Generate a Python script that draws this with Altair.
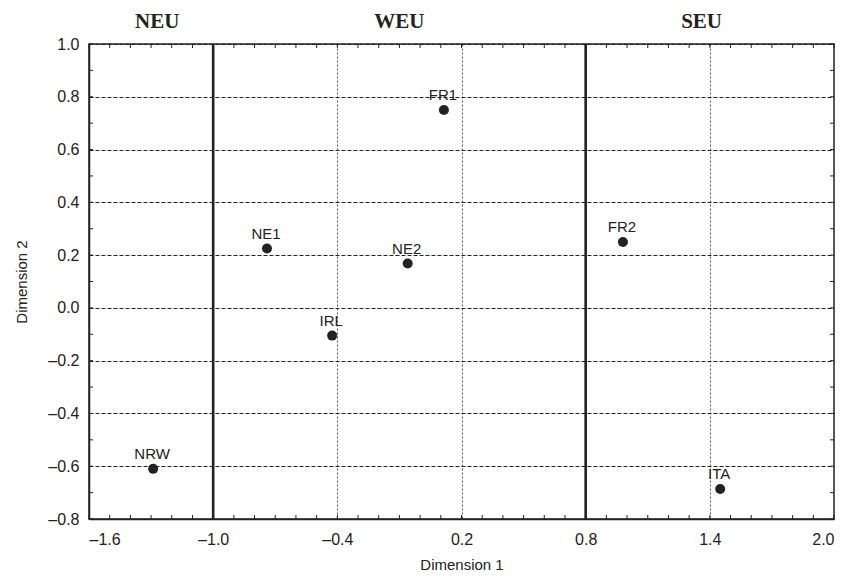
import altair as alt
import pandas as pd

# Data
countries = ["NRW", "NE1", "IRL", "NE2", "FR1", "FR2", "ITA"]
dim1 = [-1.29, -0.74, -0.425, -0.06, 0.115, 0.98, 1.45]
dim2 = [-0.61, 0.225, -0.105, 0.168, 0.75, 0.25, -0.686]

regions = ["NEU", "WEU", "SEU"]
region_x = [-1.27, -0.1, 1.36]
boundaries = [-1.0, 0.8]

x_ticks = [-1.6, -1.0, -0.4, 0.2, 0.8, 1.4, 2.0]
y_ticks = [-0.8, -0.7, -0.6, -0.5, -0.4, -0.3, -0.2, -0.1, 0.0,
           0.1, 0.2, 0.3, 0.4, 0.5, 0.6, 0.7, 0.8, 0.9, 1.0]
x_minor = [round(-1.6 + 0.1 * i, 1) for i in range(37)]

W, H = 745, 475
INK = "#222222"
FONT = "Liberation Sans"

pts = pd.DataFrame({"country": countries, "d1": dim1, "d2": dim2})
reg = pd.DataFrame({"region": regions, "x": region_x})
bnd = pd.DataFrame({"b": boundaries})
mx = pd.DataFrame({"m": x_minor})
my = pd.DataFrame({"m": y_ticks})

xscale = alt.Scale(domain=[-1.6, 2.0], nice=False, zero=False)
yscale = alt.Scale(domain=[-0.8, 1.0], nice=False, zero=False)

lab = "(datum.value < -0.001 ? '–' : '') + format(abs(datum.value), '.1f')"

xaxis = alt.Axis(values=x_ticks, title="Dimension 1", grid=True, ticks=False,
                 labelExpr=lab, labelPadding=12, titlePadding=10,
                 gridDash=[2, 2], gridColor="#555555", gridWidth=1,
                 domainColor=INK, domainWidth=1.5,
                 labelFont=FONT, titleFont=FONT, labelFontSize=16, titleFontSize=15,
                 labelColor=INK, titleColor=INK, titleFontWeight="normal")
yaxis = alt.Axis(values=y_ticks, title="Dimension 2", grid=True, ticks=False,
                 labelExpr="abs(round(datum.value*10)) % 2 == 1 ? '' : " + lab,
                 labelPadding=10, titlePadding=18,
                 gridDash=[4, 2], gridColor="#222222", gridWidth=1,
                 domainColor=INK, domainWidth=1.5,
                 labelFont=FONT, titleFont=FONT, labelFontSize=16, titleFontSize=15,
                 labelColor=INK, titleColor=INK, titleFontWeight="normal")

points = alt.Chart(pts).mark_circle(size=100, color=INK, opacity=1).encode(
    x=alt.X("d1:Q", scale=xscale, axis=xaxis),
    y=alt.Y("d2:Q", scale=yscale, axis=yaxis),
)

labels = alt.Chart(pts).mark_text(
    font=FONT, fontSize=15, color=INK, baseline="bottom", align="center",
    dx=-1, dy=-7
).encode(x=alt.X("d1:Q", scale=xscale), y=alt.Y("d2:Q", scale=yscale), text="country:N")

thick = alt.Chart(bnd).mark_rule(color=INK, strokeWidth=2.6).encode(
    x=alt.X("b:Q", scale=xscale)
)

top_ticks = alt.Chart(mx).mark_rule(color=INK, strokeWidth=1).encode(
    x=alt.X("m:Q", scale=xscale), y=alt.value(0), y2=alt.value(4)
)
bot_ticks = alt.Chart(mx).mark_rule(color=INK, strokeWidth=1).encode(
    x=alt.X("m:Q", scale=xscale), y=alt.value(H), y2=alt.value(H - 4)
)
left_ticks = alt.Chart(my).mark_rule(color=INK, strokeWidth=1).encode(
    y=alt.Y("m:Q", scale=yscale), x=alt.value(0), x2=alt.value(4)
)
right_ticks = alt.Chart(my).mark_rule(color=INK, strokeWidth=1).encode(
    y=alt.Y("m:Q", scale=yscale), x=alt.value(W), x2=alt.value(W - 4)
)

reg_text = alt.Chart(reg).mark_text(
    font="Liberation Serif", fontSize=21, fontWeight="bold", color=INK,
    baseline="alphabetic", align="center"
).encode(x=alt.X("x:Q", scale=xscale), y=alt.value(-16), text="region:N")

chart = alt.layer(
    thick, top_ticks, bot_ticks, left_ticks, right_ticks, points, labels, reg_text
).properties(
    width=W, height=H,
    padding={"left": 81, "top": 36, "right": 5, "bottom": 56},
    autosize=alt.AutoSizeParams(type="none"),
    background="white",
).configure_view(
    stroke=INK, strokeWidth=1.5
)

chart.save("out.html", embed_options={"renderer": "svg", "actions": False})
